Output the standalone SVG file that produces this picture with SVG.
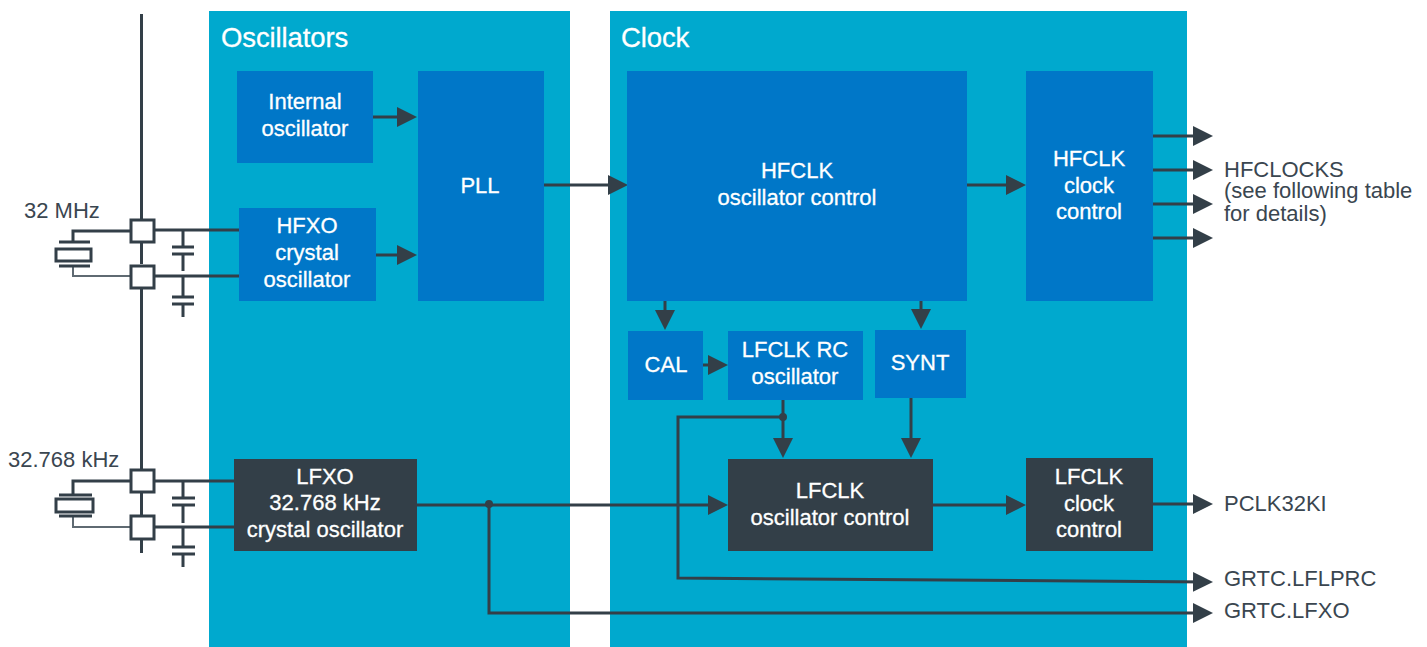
<svg xmlns="http://www.w3.org/2000/svg" width="1427" height="647" viewBox="0 0 1427 647">
<style>
text{font-family:"Liberation Sans",Arial,sans-serif;font-size:22px}
.w{fill:#fff;text-anchor:middle;stroke:#fff;stroke-width:.3}
.t{fill:#fff;font-size:27.500px;stroke:#fff;stroke-width:.3;letter-spacing:-.1px}
.k{fill:#3a4650}
.b{fill:#0077c8}
.d{fill:#333f48}
.c{fill:none;stroke:#333f48;stroke-width:3}
.l{fill:none;stroke:#5f6a72;stroke-width:2}
.a{marker-end:url(#ah)}
.s{fill:#fff;stroke:#333f48;stroke-width:3}
</style>
<defs>
<marker id="ah" markerUnits="userSpaceOnUse" markerWidth="22" markerHeight="22" refX="16" refY="11" orient="auto"><path d="M0 1L20 11L0 21Z" fill="#333f48"/></marker>
</defs>
<rect width="1427" height="647" fill="#fff"/>
<g id="oscillators"><rect x="209" y="11" width="361" height="636" fill="#00a9ce"/><text class="t" x="221" y="47">Oscillators</text></g>
<g id="clock"><rect x="610" y="11" width="577" height="636" fill="#00a9ce"/><text class="t" x="621" y="47">Clock</text></g>
<g id="connectors">
<path class="c" d="M141.500 14V220M141.500 241V264M141.500 288V470M141.500 491V515M141.500 539V553"/>
<path class="c" d="M154 230H240M154 276H240M154 481H234M154 527H234"/>
<path class="c" d="M131 231H73V243M131 481H73V494"/>
<path class="l" d="M131 276H73V266M131 527H73V516"/>
<path class="c" d="M183 230V247M183 254V271M183 276V297M183 304V317M183 481V498M183 505V523M183 527V547M183 554V567"/>
<path class="c" d="M172 247H194M172 254H194M172 297H194M172 304H194M172 498H195M172 505H195M172 547H195M172 554H195M59 242H90M59 266H90M59 495H92M59 516H92"/>
<rect class="c" x="56" y="249" width="35" height="12"/>
<rect class="c" x="56" y="499" width="37" height="13"/>
<path class="c a" d="M373 117H413"/>
<path class="c a" d="M376 255H413"/>
<path class="c a" d="M543 185H624"/>
<path class="c a" d="M966 185H1022"/>
<path class="c a" d="M665 300V326"/>
<path class="c a" d="M921 300V325"/>
<path class="c a" d="M702 365H724"/>
<path class="c a" d="M783 400V454"/>
<path class="c a" d="M911 398V454"/>
<path class="c a" d="M417 505H724"/>
<path class="c a" d="M932 505H1022"/>
<path class="c a" d="M1152 136H1209"/>
<path class="c a" d="M1152 170H1209"/>
<path class="c a" d="M1152 204H1209"/>
<path class="c a" d="M1152 238H1209"/>
<path class="c a" d="M1152 504H1209"/>
<path class="c a" d="M783 417H678V578L1209 582"/>
<path class="c a" d="M489 505V613H1209"/>
<circle cx="783" cy="417" r="4" fill="#333f48"/>
<circle cx="489" cy="504" r="4" fill="#333f48"/>
</g>
<g id="sw1"><rect class="s" x="131" y="220" width="23" height="22"/></g>
<g id="sw2"><rect class="s" x="131" y="266" width="23" height="22"/></g>
<g id="sw3"><rect class="s" x="131" y="470" width="23" height="22"/></g>
<g id="sw4"><rect class="s" x="131" y="516" width="23" height="23"/></g>
<g id="label-32mhz"><text class="k" x="24" y="218">32 MHz</text></g>
<g id="label-32khz"><text class="k" x="8" y="467">32.768 kHz</text></g>
<g id="internal"><rect class="b" x="237" y="71" width="136" height="92"/><text class="w" x="305" y="109">Internal</text><text class="w" x="305" y="136">oscillator</text></g>
<g id="hfxo"><rect class="b" x="239" y="208" width="137" height="93"/><text class="w" x="307" y="233">HFXO</text><text class="w" x="307" y="260">crystal</text><text class="w" x="307" y="287">oscillator</text></g>
<g id="pll"><rect class="b" x="418" y="71" width="126" height="230"/><text class="w" x="480" y="193">PLL</text></g>
<g id="hfclk-osc"><rect class="b" x="627" y="71" width="340" height="230"/><text class="w" x="797" y="178">HFCLK</text><text class="w" x="797" y="205">oscillator control</text></g>
<g id="hfclk-clk"><rect class="b" x="1026" y="71" width="127" height="230"/><text class="w" x="1089" y="166">HFCLK</text><text class="w" x="1089" y="193">clock</text><text class="w" x="1089" y="219">control</text></g>
<g id="cal"><rect class="b" x="628" y="331" width="75" height="69"/><text class="w" x="666" y="372">CAL</text></g>
<g id="lfclk-rc"><rect class="b" x="728" y="331" width="135" height="69"/><text class="w" x="795" y="357">LFCLK RC</text><text class="w" x="795" y="384">oscillator</text></g>
<g id="synt"><rect class="b" x="875" y="330" width="91" height="68"/><text class="w" x="920" y="370">SYNT</text></g>
<g id="lfxo"><rect class="d" x="234" y="459" width="183" height="92"/><text class="w" x="325" y="484">LFXO</text><text class="w" x="325" y="510">32.768 kHz</text><text class="w" x="325" y="537">crystal oscillator</text></g>
<g id="lfclk-osc"><rect class="d" x="728" y="459" width="205" height="92"/><text class="w" x="830" y="498">LFCLK</text><text class="w" x="830" y="525">oscillator control</text></g>
<g id="lfclk-clk"><rect class="d" x="1026" y="458" width="127" height="93"/><text class="w" x="1089" y="484">LFCLK</text><text class="w" x="1089" y="511">clock</text><text class="w" x="1089" y="537">control</text></g>
<g id="out-hf"><text class="k" x="1224" y="177">HFCLOCKS</text><text class="k" x="1224" y="198">(see following table</text><text class="k" x="1224" y="221">for details)</text></g>
<g id="out-pclk"><text class="k" x="1224" y="511">PCLK32KI</text></g>
<g id="out-lfprc"><text class="k" x="1224" y="586">GRTC.LFLPRC</text></g>
<g id="out-lfxo"><text class="k" x="1224" y="618">GRTC.LFXO</text></g>
</svg>
